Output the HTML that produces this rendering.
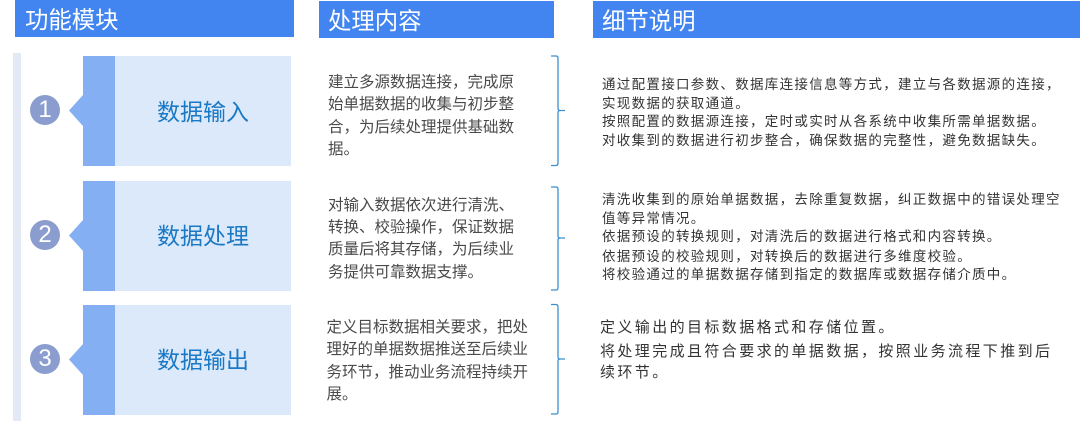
<!DOCTYPE html>
<html lang="zh">
<head>
<meta charset="utf-8">
<style>
html,body{margin:0;padding:0;background:#fff}
#p{position:relative;width:1080px;height:421px;overflow:hidden;background:#fff;font-family:"Liberation Sans","Noto Sans CJK SC",sans-serif;filter:blur(.3px)}
.b{position:absolute}
.t{position:absolute;white-space:nowrap;height:30px;line-height:30px}
.h{color:#fff;font-size:23.4px}
.l{color:#1a78c4;font-size:23px}
.c{color:#4a4a4a}
.n{font-size:15.500px}
.d{font-size:13.500px;letter-spacing:1.3px;color:#333}
.e{font-size:15px;letter-spacing:2.400px;color:#333}
.k{position:absolute;width:30px;height:30px;border-radius:50%;background:#8b9dcf;color:#fff;font-size:24px;line-height:30px;text-align:center;left:30px}
svg{position:absolute;left:0;top:0}
</style>
</head>
<body>
<div id="p">
<div class="b" style="left:15px;top:0;width:279px;height:37px;background:#4285f0"></div>
<div class="b" style="left:319px;top:1px;width:235px;height:37px;background:#4285f0"></div>
<div class="b" style="left:593px;top:1px;width:487px;height:37px;background:#4285f0"></div>
<div class="t h" style="left:25px;top:5px">功能模块</div>
<div class="t h" style="left:328px;top:6px">处理内容</div>
<div class="t h" style="left:602px;top:6px">细节说明</div>

<div class="b" style="left:13px;top:53px;width:8px;height:368px;background:#e4e9f6"></div>

<div class="b" style="left:115px;top:56px;width:176px;height:110px;background:#dce9fb"></div>
<div class="b" style="left:115px;top:181px;width:176px;height:110px;background:#dce9fb"></div>
<div class="b" style="left:115px;top:305px;width:176px;height:110px;background:#dce9fb"></div>

<svg width="1080" height="421" viewBox="0 0 1080 421">
<polygon points="83,56 115,56 115,166 83,166 83,126 69,110.5 83,95" fill="#84aff2"/>
<polygon points="83,181 115,181 115,291 83,291 83,251 69,235.5 83,220" fill="#84aff2"/>
<polygon points="83,305 115,305 115,415 83,415 83,375 69,359.5 83,344" fill="#84aff2"/>
<g fill="none" stroke="#3b8fd0" stroke-width="1.3">
<path d="M551,56H556Q558,56 558,58V108Q558,110.5 560,110.5H565M560,110.5Q558,110.5 558,113V163Q558,165.5 556,165.5H551"/>
<path d="M551,187H556Q558,187 558,189V236Q558,238 560,238H565M560,238Q558,238 558,240V288Q558,290 556,290H551"/>
<path d="M551,304.500H556Q558,304.500 558,307V357Q558,359 560,359H565M560,359Q558,359 558,361V412Q558,414 556,414H551"/>
</g>
</svg>

<div class="k" style="top:95px">1</div>
<div class="k" style="top:220px">2</div>
<div class="k" style="top:344px">3</div>

<div class="t l" style="left:157px;top:97px">数据输入</div>
<div class="t l" style="left:157px;top:221px">数据处理</div>
<div class="t l" style="left:157px;top:345px">数据输出</div>

<div class="t c n" style="left:328px;top:68px">建立多源数据连接，完成原</div>
<div class="t c n" style="left:328px;top:90px">始单据数据的收集与初步整</div>
<div class="t c n" style="left:328px;top:113px">合，为后续处理提供基础数</div>
<div class="t c n" style="left:328px;top:135px">据。</div>

<div class="t c n" style="left:328px;top:191px">对输入数据依次进行清洗、</div>
<div class="t c n" style="left:328px;top:213px">转换、校验操作，保证数据</div>
<div class="t c n" style="left:328px;top:235px">质量后将其存储，为后续业</div>
<div class="t c n" style="left:328px;top:258px">务提供可靠数据支撑。</div>

<div class="t c n" style="left:326.500px;top:313px">定义目标数据相关要求，把处</div>
<div class="t c n" style="left:326.500px;top:335px">理好的单据数据推送至后续业</div>
<div class="t c n" style="left:326.500px;top:358px">务环节，推动业务流程持续开</div>
<div class="t c n" style="left:326.500px;top:380px">展。</div>

<div class="t d" style="left:602px;top:70px">通过配置接口参数、数据库连接信息等方式，建立与各数据源的连接，</div>
<div class="t d" style="left:602px;top:89px">实现数据的获取通道。</div>
<div class="t d" style="left:602px;top:107px">按照配置的数据源连接，定时或实时从各系统中收集所需单据数据。</div>
<div class="t d" style="left:602px;top:126px">对收集到的数据进行初步整合，确保数据的完整性，避免数据缺失。</div>

<div class="t d" style="left:602px;top:185px">清洗收集到的原始单据数据，去除重复数据，纠正数据中的错误处理空</div>
<div class="t d" style="left:602px;top:204px">值等异常情况。</div>
<div class="t d" style="left:602px;top:222px">依据预设的转换规则，对清洗后的数据进行格式和内容转换。</div>
<div class="t d" style="left:602px;top:242px">依据预设的校验规则，对转换后的数据进行多维度校验。</div>
<div class="t d" style="left:602px;top:260px">将校验通过的单据数据存储到指定的数据库或数据存储介质中。</div>

<div class="t e" style="left:600px;top:313px">定义输出的目标数据格式和存储位置。</div>
<div class="t e" style="left:600px;top:337px">将处理完成且符合要求的单据数据，按照业务流程下推到后</div>
<div class="t e" style="left:600px;top:358px">续环节。</div>
</div>
</body>
</html>
